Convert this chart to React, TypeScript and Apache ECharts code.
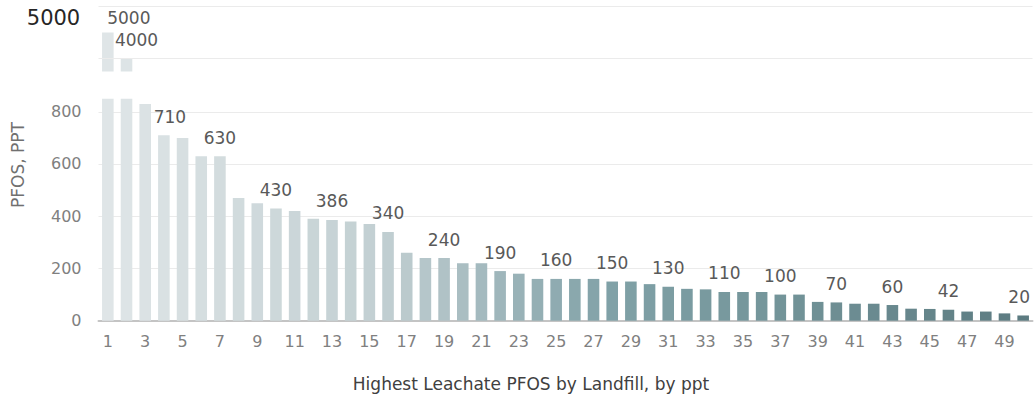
import React, { useEffect, useRef } from "react";
import * as echarts from "echarts";

// Landfill rank (1..50) and highest leachate PFOS in ppt
const landfills: string[] = Array.from({ length: 50 }, (_, i) => String(i + 1));
const pfosValues: number[] = [
  5000, 4000, 830, 710, 700, 630, 630, 470, 450, 430,
  420, 390, 386, 380, 370, 340, 260, 240, 240, 220,
  220, 190, 180, 160, 160, 160, 160, 150, 150, 140,
  130, 122, 120, 110, 110, 110, 100, 100, 72, 70,
  65, 65, 60, 46, 45, 42, 35, 35, 28, 20,
];
// Bars whose values are printed above them (1-based rank)
const labelledRanks: number[] = [1, 2, 4, 7, 10, 13, 16, 19, 22, 25, 28, 31, 34, 37, 40, 43, 46, 50];

// Broken value axis: lower panel and upper panel ranges
const lowerMax = 850;
const lowerTicks: number[] = [0, 200, 400, 600, 800];
const upperMin = 3500;
const upperMax = 6000;
const upperGridValues: number[] = [4000, 6000];

const FONT = "DejaVu Sans";

// colour ramp from pale grey to dark teal across the ranks
const rampStops: [number, string][] = [
  [0, "#dfe5e7"],
  [0.3, "#c2cfd2"],
  [0.45, "#99b2b7"],
  [0.55, "#80a1a7"],
  [0.7, "#76979c"],
  [1, "#5c7b81"],
];
function hexToRgb(h: string) {
  const n = parseInt(h.slice(1), 16);
  return [(n >> 16) & 255, (n >> 8) & 255, n & 255];
}
function rampColor(t: number) {
  for (let i = 1; i < rampStops.length; i++) {
    const [t1, c1] = rampStops[i];
    const [t0, c0] = rampStops[i - 1];
    if (t <= t1) {
      const f = (t - t0) / (t1 - t0);
      const a = hexToRgb(c0);
      const b = hexToRgb(c1);
      const c = a.map((v, k) => Math.round(v + (b[k] - v) * f));
      return `rgb(${c[0]},${c[1]},${c[2]})`;
    }
  }
  return rampStops[rampStops.length - 1][1];
}

// label nudges for a few crowded bars
const labelNudge: Record<number, { dx: number; dist: number }> = {
  1: { dx: 21, dist: 6 },
  2: { dx: 10, dist: 10 },
  4: { dx: 6, dist: 10 },
  50: { dx: -4, dist: 10 },
};

export default function App() {
  const ref = useRef<HTMLDivElement>(null);

  useEffect(() => {
    document.body.style.margin = "0";
    if (!ref.current) return;
    const chart = echarts.init(ref.current, undefined, { renderer: "svg" });

    const labelStyle = (rank: number, show: boolean) => {
      const n = labelNudge[rank] || { dx: 0, dist: 10 };
      return {
        show,
        position: "top",
        distance: n.dist,
        offset: [n.dx, 0],
        color: "#595959",
        fontFamily: FONT,
        fontSize: 17,
        formatter: (p: any) => String(p.value),
      };
    };

    const lowerData = pfosValues.map((v, i) => ({
      value: v,
      itemStyle: { color: rampColor(i / (pfosValues.length - 1)) },
      label: labelStyle(i + 1, labelledRanks.includes(i + 1) && v <= lowerMax),
    }));
    const upperData = pfosValues.map((v, i) =>
      v >= upperMin
        ? {
            value: v,
            itemStyle: { color: rampColor(i / (pfosValues.length - 1)) },
            label: labelStyle(i + 1, labelledRanks.includes(i + 1)),
          }
        : "-"
    );

    chart.setOption({
      animation: false,
      backgroundColor: "#ffffff",
      grid: [
        { left: 98.5, right: 1.5, top: 98.7, bottom: 78.3, containLabel: false },
        { left: 98.5, right: 1.5, top: 6.5, bottom: 327.5, containLabel: false },
      ],
      xAxis: [
        {
          type: "category",
          gridIndex: 0,
          data: landfills,
          axisTick: { show: false },
          axisLine: { lineStyle: { color: "#c4c4c4", width: 2 } },
          axisLabel: {
            interval: 1,
            color: "#808080",
            fontFamily: FONT,
            fontSize: 16,
            margin: 13,
          },
        },
        {
          type: "category",
          gridIndex: 1,
          data: landfills,
          show: false,
        },
      ],
      yAxis: [
        {
          type: "value",
          gridIndex: 0,
          min: lowerTicks[0],
          max: lowerMax,
          interval: lowerTicks[1] - lowerTicks[0],
          axisLine: { show: false },
          axisTick: { show: false },
          axisLabel: {
            showMaxLabel: false,
            color: "#808080",
            fontFamily: FONT,
            fontSize: 16,
            margin: 17,
          },
          splitLine: {
            showMaxLine: false,
            lineStyle: { color: "#ebebeb", width: 1 },
          },
        },
        {
          type: "value",
          gridIndex: 1,
          min: upperMin,
          max: upperMax,
          axisLine: { show: false },
          axisTick: { show: false },
          axisLabel: { show: false },
          splitLine: { show: false },
        },
      ],
      series: [
        {
          type: "bar",
          xAxisIndex: 0,
          yAxisIndex: 0,
          data: lowerData,
          barCategoryGap: "38%",
          clip: true,
        },
        {
          type: "bar",
          xAxisIndex: 1,
          yAxisIndex: 1,
          data: upperData,
          barCategoryGap: "38%",
          clip: true,
          markLine: {
            silent: true,
            symbol: "none",
            label: { show: false },
            lineStyle: { color: "#ebebeb", width: 1, type: "solid" },
            data: upperGridValues.map((v) => ({ yAxis: v })),
          },
        },
      ],
      graphic: [
        {
          type: "text",
          x: 53.5,
          y: 18,
          style: {
            text: "5000",
            fill: "#262626",
            font: `21px "${FONT}"`,
            textAlign: "center",
            textVerticalAlign: "middle",
          },
        },
        {
          type: "text",
          x: 18,
          y: 165,
          rotation: Math.PI / 2,
          style: {
            text: "PFOS, PPT",
            fill: "#707070",
            font: `17px "${FONT}"`,
            textAlign: "center",
            textVerticalAlign: "middle",
          },
        },
        {
          type: "text",
          x: 531,
          y: 384,
          style: {
            text: "Highest Leachate PFOS by Landfill, by ppt",
            fill: "#404040",
            font: `17px "${FONT}"`,
            textAlign: "center",
            textVerticalAlign: "middle",
          },
        },
      ],
    });

    return () => chart.dispose();
  }, []);

  return <div ref={ref} style={{ width: 1034, height: 399 }} />;
}
